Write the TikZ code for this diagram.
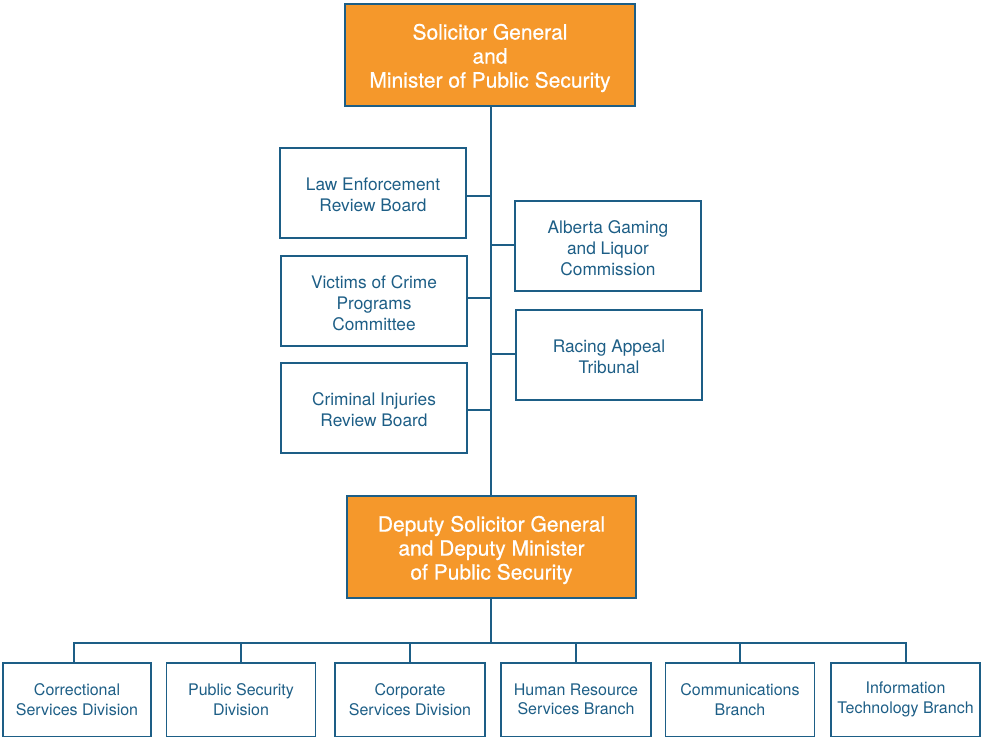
\documentclass[tikz,border=0pt]{standalone}
\usepackage{fontspec}
\setmainfont{TeX Gyre Heros}
\newfontfamily\headfont[FakeBold=0.6]{TeX Gyre Heros}
\definecolor{teal}{HTML}{1D5E86}
\definecolor{orng}{HTML}{F5982B}
\begin{document}
\begin{tikzpicture}[x=1pt,y=-1pt,
  frame/.style={draw=teal,line width=1.2pt,inner sep=0pt},
  btxt/.style={text=teal,align=center,inner sep=0pt,font=\fontsize{17.3}{21}\selectfont,yshift=-2pt},
  stxt/.style={text=teal,align=center,inner sep=0pt,font=\fontsize{16}{19.5}\selectfont,yshift=0.5pt},
  htxt/.style={text=white,align=center,inner sep=0pt,font=\headfont\fontsize{21}{24}\selectfont,yshift=-3pt},
  box/.style={frame,minimum width=186pt,minimum height=90pt,label={[btxt]center:#1}},
  sbox/.style={frame,minimum height=74pt,label={[stxt]center:#1}},
  head/.style={frame,fill=orng,minimum height=102pt,label={[htxt]center:#1}},
  link/.style={draw=teal,line width=1.2pt}]
\useasboundingbox (0,0) rectangle (981,736);
\node[head={Solicitor General\\and\\Minister of Public Security},minimum width=290pt] (min) at (490,55) {};
\node[head={Deputy Solicitor General\\and Deputy Minister\\of Public Security},minimum width=289pt] (dep) at (491.5,547) {};
\node[box={Law Enforcement\\Review Board}] (leb) at (373,193) {};
\node[box={Victims of Crime\\Programs\\Committee}] (vic) at (374,301) {};
\node[box={Criminal Injuries\\Review Board}] (cir) at (374,408) {};
\node[box={Alberta Gaming\\and Liquor\\Commission}] (agl) at (608,246) {};
\node[box={Racing Appeal\\Tribunal}] (rat) at (609,355) {};
\node[sbox={Correctional\\Services Division},minimum width=148pt] (csd) at (77,700) {};
\node[sbox={Public Security\\Division},minimum width=149pt] (psd) at (241,700) {};
\node[sbox={Corporate\\Services Division},minimum width=150pt] (cor) at (410,700) {};
\node[sbox={Human Resource\\Services Branch},minimum width=150pt] (hrs) at (576,700) {};
\node[sbox={Communications\\Branch},minimum width=149pt] (com) at (740,700) {};
\node[sbox={Information\\Technology Branch},minimum width=149pt] (itb) at (905.5,700) {};
\draw[link] (min.south -| 491,0) -- (dep.north -| 491,0);
\draw[link] (leb.east |- 0,196) -- (491,196);
\draw[link] (vic.east |- 0,298) -- (491,298);
\draw[link] (cir.east |- 0,410) -- (491,410);
\draw[link] (agl.west |- 0,245) -- (491,245);
\draw[link] (rat.west |- 0,354) -- (491,354);
\coordinate (bus) at (491,643);
\draw[link] (dep.south -| bus) -- (bus);
\draw[link] (csd.north -| 74,0) |- (bus);
\draw[link] (itb.north -| 906,0) |- (bus);
\draw[link] (psd.north) -- (psd.north |- bus);
\draw[link] (cor.north) -- (cor.north |- bus);
\draw[link] (hrs.north) -- (hrs.north |- bus);
\draw[link] (com.north) -- (com.north |- bus);
\end{tikzpicture}
\end{document}
